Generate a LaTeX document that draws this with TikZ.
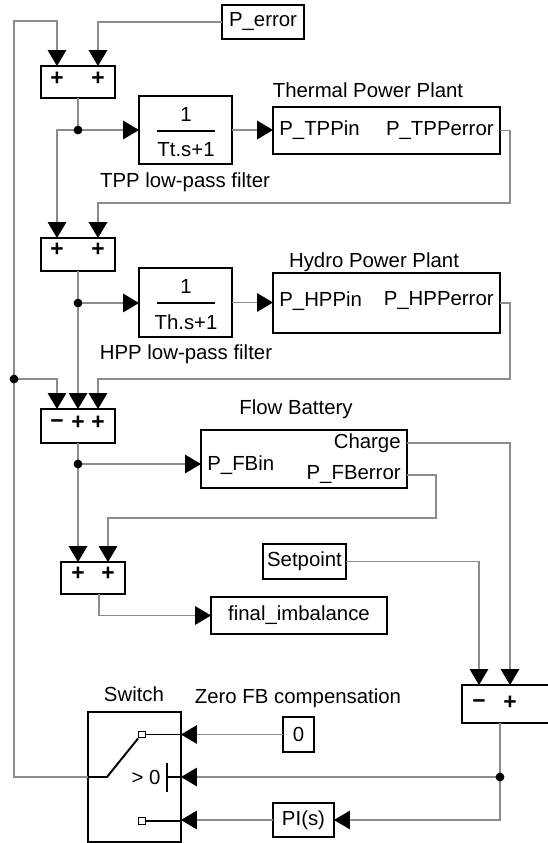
\documentclass[tikz,border=0pt]{standalone}
\usepackage{fontspec}
\setmainfont{Liberation Sans}
\usetikzlibrary{arrows.meta,calc}
\definecolor{wire}{RGB}{140,140,140}
\tikzset{
  every node/.style={font=\fontsize{11.6}{13}\selectfont},
  blk/.style={draw=black,line width=0.8pt,fill=white,inner sep=0pt,outer sep=0pt},
  wire/.style={draw=wire,line width=0.65pt},
  arr/.style={wire,-{Triangle[length=9pt,width=10.5pt,color=black]}},
  lbl/.style={inner sep=0pt},
  sgn/.style={inner sep=0pt,font=\fontsize{13}{14}\selectfont\bfseries},
  dot/.style={circle,fill=black,draw=none,inner sep=0pt,outer sep=0pt,minimum size=5pt},
  sline/.style={draw=black,line width=1.1pt},
  sq/.style={draw=black,fill=white,line width=0.8pt,inner sep=0pt,minimum size=0.13cm},
}
\newcommand\blk[6]{\node[blk,minimum width={(#4-#2)*0.02cm},minimum height={(#5-#3)*0.02cm}] (#1) at ({(#2+#4)/2},{(#3+#5)/2}) {#6};}
\begin{document}
\begin{tikzpicture}[x=0.02cm,y=-0.02cm]
\useasboundingbox[fill=white] (0,0) rectangle (548,843);

% blocks
\blk{perr}{222}{5}{304}{39}{P\_error}
\blk{s1}{41}{66}{115}{98}{}
\node[sgn] (s1a) at (57,79) {+};
\node[sgn] (s1b) at (98,79) {+};
\blk{f1}{139}{96}{232}{164}{}
\node[lbl] (f1n) at (186,114) {1};
\draw[line width=1.1pt] (157,131) -- (215,131);
\node[lbl] (f1d) at (186,150) {Tt.s+1};
\node[lbl] (f1t) at (185,182) {TPP low-pass filter};
\blk{tpp}{273}{107}{500}{154}{}
\node[lbl] (tppt) at (368,90) {Thermal Power Plant};
\node[lbl,anchor=west] (tppi) at (279,130.5) {P\_TPPin};
\node[lbl,anchor=east] (tppo) at (494,130.5) {P\_TPPerror};

\blk{s2}{41}{238}{115}{271}{}
\node[sgn] (s2a) at (57,250) {+};
\node[sgn] (s2b) at (98,250) {+};
\blk{f2}{139}{268}{232}{337}{}
\node[lbl] (f2n) at (186,286) {1};
\draw[line width=1.1pt] (157,303) -- (215,303);
\node[lbl] (f2d) at (186,322) {Th.s+1};
\node[lbl] (f2t) at (186,354) {HPP low-pass filter};
\blk{hpp}{273}{273}{500}{333}{}
\node[lbl] (hppt) at (374,262) {Hydro Power Plant};
\node[lbl,anchor=west] (hppi) at (279,301) {P\_HPPin};
\node[lbl,anchor=east] (hppo) at (494,301) {P\_HPPerror};

\blk{s3}{41}{409}{115}{443}{}
\node[sgn] (s3a) at (57,424) {−};
\node[sgn] (s3b) at (78,423) {+};
\node[sgn] (s3c) at (98,423) {+};
\blk{fb}{201}{430}{407}{488}{}
\node[lbl] (fbt) at (296,409) {Flow Battery};
\node[lbl,anchor=west] (fbi) at (207,465) {P\_FBin};
\node[lbl,anchor=east] (fbc) at (401,443) {Charge};
\node[lbl,anchor=east] (fbe) at (401,475) {P\_FBerror};

\blk{s4}{61}{562}{125}{594}{}
\node[sgn] (s4a) at (78,574) {+};
\node[sgn] (s4b) at (108,574) {+};
\blk{fin}{211}{597}{387}{634}{final\_imbalance}
\blk{sp}{263}{544}{346}{579}{Setpoint}

\blk{s5}{462}{685}{560}{723}{}
\node[sgn] (s5a) at (479,704) {−};
\node[sgn] (s5b) at (510,703) {+};

\blk{sw}{88}{712}{181}{842}{}
\node[lbl] (swt) at (134,694) {Switch};
\blk{zero}{283}{717}{314}{752}{0}
\node[lbl] (zt) at (298,698) {Zero FB compensation};
\blk{pi}{273}{803}{334}{837}{PI(s)}

\coordinate (tl) at (14,21);
\coordinate (swout) at (88,777);
\coordinate (c1) at (78,130);
\coordinate (c2) at (78,303);
\coordinate (c3) at (14,379);
\coordinate (c4) at (78,464);
\coordinate (c5) at (500,777);

% connectors
\draw[arr] (swout) -| (tl) -| (57,0 |- s1.north);
\draw[arr] (perr.west) -| (98,0 |- s1.north);
\draw[wire] (78,0 |- s1.south) -- (c1);
\draw[arr] (c1) -- (f1.west);
\draw[arr] (c1) -| (57,0 |- s2.north);
\draw[arr] (f1.east) -- (f1.east -| tpp.west);
\draw[arr] (tpp.east) -| (510,203) -| (98,0 |- s2.north);

\draw[wire] (78,0 |- s2.south) -- (c2);
\draw[arr] (c2) -- (c2 -| f2.west);
\draw[arr] (c2) -- (78,0 |- s3.north);
\draw[arr] (f2.east) -- (f2.east -| hpp.west);
\draw[arr] (hpp.east) -| (510,379) -| (98,0 |- s3.north);
\draw[arr] (c3) -| (57,0 |- s3.north);

\draw[wire] (78,0 |- s3.south) -- (c4);
\draw[arr] (c4) -- (c4 -| fb.west);
\draw[arr] (c4) -- (78,0 |- s4.north);
\draw[arr] (fb.east |- 0,443) -| (510,0 |- s5.north);
\draw[arr] (fb.east |- 0,475) -| (436,518) -| (108,0 |- s4.north);
\draw[arr] (99,0 |- s4.south) |- (fin.west);
\draw[arr] (sp.east) -| (479,0 |- s5.north);

\draw[wire] (500,0 |- s5.south) -- (c5);
\draw[arr] (c5) -- (c5 -| sw.east);
\draw[arr] (c5) |- (pi.east);
\draw[arr] (pi.west) -- (pi.west -| sw.east);
\draw[arr] (zero.west) -- (zero.west -| sw.east);

% junction dots (on top of wires)
\node[dot] (j1) at (c1) {};
\node[dot] (j2) at (c2) {};
\node[dot] (j3) at (c3) {};
\node[dot] (j4) at (c4) {};
\node[dot] (j5) at (c5) {};

% switch internals
\node[sq] (sq1) at (142,734.5) {};
\draw[sline] (sw.east |- sq1) -- (sq1.east);
\draw[sline] (sq1.south west) -- (107,777) -- (swout);
\node[lbl] (gt) at (146,777) {> 0};
\draw[sline] (167,763) -- (167,792);
\draw[sline] (167,777) -- (sw.east |- 0,777);
\node[sq] (sq2) at (142,821) {};
\draw[sline] (sq2.east) -- (sw.east |- sq2);
\end{tikzpicture}
\end{document}
